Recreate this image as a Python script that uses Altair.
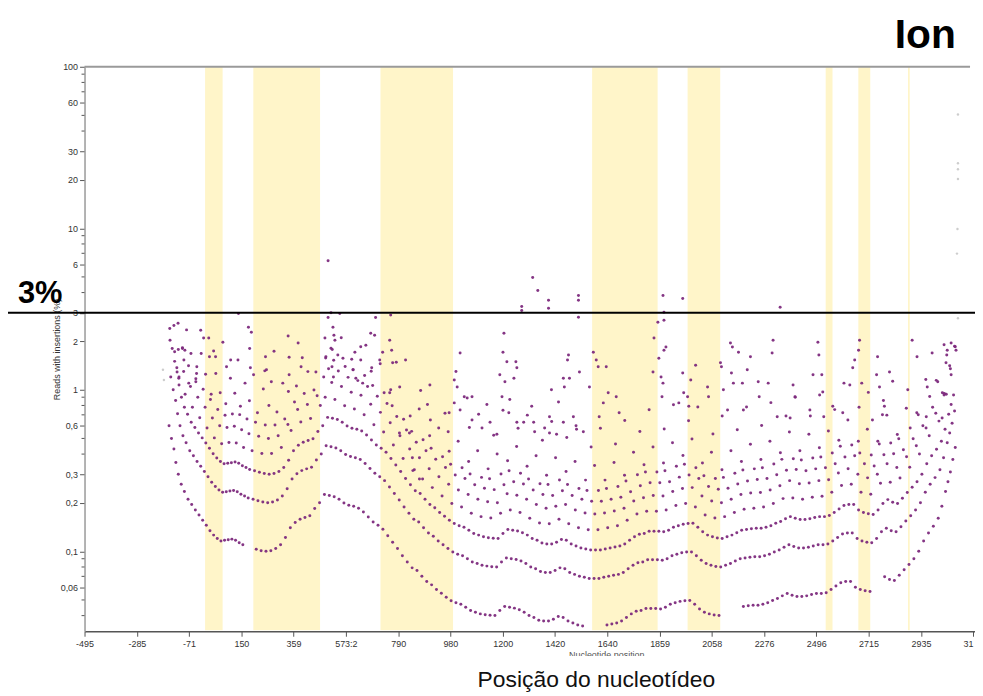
import altair as alt
import pandas as pd

W, H = 896, 568
FONT = "Liberation Sans"

# shaded regions (nucleotide positions)
band_start = [0, 198, 720, 1589, 1981, 2548, 2682, 2886]
band_end = [72, 472, 1018, 1858, 2115, 2576, 2731, 2893]

# axis ticks
x_tick_pos = [-495, -280, -66, 149, 363, 578, 793, 1007, 1222, 1436, 1651, 1866, 2080, 2295, 2509, 2724, 2939, 3153]
x_tick_labels = ["-495", "-285", "-71", "150", "359", "573:2", "790", "980", "1200", "1420", "1640", "1859",
                 "2058", "2276", "2496", "2715", "2935", "31"]
y_ticks = [100, 60, 30, 20, 10, 6, 3, 2, 1, 0.6, 0.3, 0.2, 0.1, 0.06]
y_tick_labels = ["100", "60", "30", "20", "10", "6", "3", "2", "1", "0,6", "0,3", "0,2", "0,1", "0,06"]
y_minor = [90, 80, 70, 50, 40, 9, 8, 7, 5, 4, 0.9, 0.8, 0.7, 0.5, 0.4, 0.09, 0.08, 0.07, 0.05, 0.04]

# points: [position, % reads with insertions]
band1 = [[-148,0.60],[-138,0.50],[-128,0.43],[-120,0.355],[-110,0.30],[-98,0.26],[-85,0.235],[-70,0.21],[-55,0.195],[-40,0.18],[-25,0.168],[-10,0.156],[5,0.145],[20,0.134],[35,0.126],[50,0.12],[65,0.116],[80,0.117],[95,0.118],[110,0.119],[125,0.117],[140,0.113],[155,0.110],[210,0.103],[230,0.101],[250,0.100],[270,0.101],[290,0.104],[310,0.110],[330,0.122],[350,0.140],[370,0.151],[390,0.158],[410,0.162],[430,0.166],[450,0.184],[470,0.200],
         [490,0.225],[510,0.222],[530,0.218],[550,0.210],[570,0.199],[590,0.193],[610,0.190],[630,0.185],[650,0.175],[670,0.163],[690,0.152],[710,0.145],[730,0.137],[750,0.125],[770,0.114],[790,0.104],[810,0.094],[830,0.086],[850,0.079],[870,0.076],[890,0.070],[910,0.065],[930,0.062],[950,0.058],[970,0.055],[990,0.052],[1010,0.0495],[1030,0.048],[1050,0.047],[1070,0.045],[1090,0.043],[1110,0.042],[1130,0.041],[1150,0.0405],[1170,0.0402],[1190,0.040],[1210,0.043],[1230,0.0455],[1250,0.045],[1270,0.0445],[1290,0.0435],[1310,0.042],[1330,0.040],[1350,0.039],[1370,0.0375],[1390,0.037],[1410,0.037],[1430,0.038],[1450,0.0395],[1470,0.039],[1490,0.037],[1510,0.036],[1530,0.035],[1550,0.0345],
         [1650,0.035],[1670,0.0355],[1690,0.036],[1710,0.037],[1730,0.039],[1750,0.041],[1770,0.0425],[1790,0.043],[1810,0.0443],[1830,0.0443],[1850,0.0443],[1870,0.044],[1890,0.045],[1910,0.047],[1930,0.048],[1950,0.049],[1970,0.0495],[1990,0.0496],[2010,0.047],[2030,0.044],[2050,0.042],[2070,0.041],[2090,0.0403],[2110,0.040],
         [2210,0.0455],[2230,0.046],[2250,0.0463],[2270,0.0463],[2290,0.047],[2310,0.048],[2330,0.0496],[2350,0.051],[2370,0.053],[2390,0.0548],[2410,0.0535],[2430,0.0525],[2450,0.0525],[2470,0.053],[2490,0.054],[2510,0.0548],[2530,0.0548],[2550,0.0555],[2570,0.058],[2590,0.061],[2610,0.064],[2630,0.065],[2650,0.065],[2670,0.060],[2690,0.058],[2710,0.057],[2730,0.0564],
         [2790,0.0697],[2810,0.067],[2830,0.066],[2850,0.071],[2870,0.077],[2890,0.083],[2910,0.090],[2930,0.100],[2950,0.116],[2970,0.130],[2990,0.143],[3010,0.160],[3025,0.190],[3040,0.235],[3050,0.27],[3060,0.31],[3070,0.37],[3080,0.44]]

band2 = [[-141,1.2],[-131,1.0],[-121,0.86],[-113,0.71],[-103,0.60],[-91,0.52],[-78,0.47],[-63,0.42],[-48,0.39],[-33,0.36],[-18,0.336],[-3,0.312],[12,0.29],[27,0.268],[42,0.252],[57,0.24],[72,0.232],[87,0.234],[102,0.236],[117,0.238],[132,0.234],[147,0.226],[162,0.22],[177,0.214],[197,0.21],[217,0.206],[237,0.202],[257,0.20],[277,0.202],[297,0.208],[317,0.22],[337,0.244],[357,0.28],[377,0.302],[397,0.316],[417,0.324],[437,0.332],[457,0.368],[477,0.40],
         [497,0.45],[517,0.444],[537,0.436],[557,0.42],[577,0.398],[597,0.386],[617,0.38],[637,0.37],[657,0.35],[677,0.326],[697,0.304],[717,0.29],[737,0.274],[757,0.25],[777,0.228],[797,0.208],[817,0.188],[837,0.172],[857,0.158],[877,0.152],[897,0.14],[917,0.13],[937,0.124],[957,0.116],[977,0.11],[997,0.104],[1017,0.099],[1037,0.096],[1057,0.094],[1077,0.09],[1097,0.086],[1117,0.084],[1137,0.082],[1157,0.081],[1177,0.0804],[1197,0.08],[1217,0.086],[1237,0.091],[1257,0.09],[1277,0.089],[1297,0.087],[1317,0.084],[1337,0.08],[1357,0.078],[1377,0.075],[1397,0.074],[1417,0.074],[1437,0.076],[1457,0.079],[1477,0.078],[1497,0.074],[1517,0.072],[1537,0.07],[1557,0.069],[1577,0.068],[1597,0.068],[1617,0.068],[1637,0.069],[1657,0.07],[1677,0.071],[1697,0.072],[1717,0.074],[1737,0.078],[1757,0.082],[1777,0.085],[1797,0.086],[1817,0.0886],[1837,0.0886],[1857,0.0886],[1877,0.088],[1897,0.09],[1917,0.094],[1937,0.096],[1957,0.098],[1977,0.099],[1997,0.0992],[2017,0.094],[2037,0.088],[2057,0.084],[2077,0.082],[2097,0.0806],[2117,0.08],[2137,0.082],[2157,0.084],[2177,0.087],[2197,0.09],[2217,0.091],[2237,0.092],[2257,0.0926],[2277,0.0926],[2297,0.094],[2317,0.096],[2337,0.0992],[2357,0.102],[2377,0.106],[2397,0.11],[2417,0.107],[2437,0.105],[2457,0.105],[2477,0.106],[2497,0.108],[2517,0.11],[2537,0.11],[2557,0.111],[2577,0.116],[2597,0.122],[2617,0.128],[2637,0.13],[2657,0.13],[2677,0.12],[2697,0.116],[2717,0.114],[2737,0.113],[2757,0.12],[2777,0.132],[2797,0.139],[2817,0.134],[2837,0.132],[2857,0.142],[2877,0.154],[2897,0.166],[2917,0.18],[2937,0.20],[2957,0.232],[2977,0.26],[2997,0.286],[3017,0.32],[3032,0.38],[3047,0.47],[3057,0.54],[3067,0.62],[3077,0.74]]

band3 = [[-135,1.8],[-125,1.5],[-115,1.29],[-107,1.07],[-97,0.9],[-85,0.78],[-72,0.705],[-57,0.63],[-42,0.585],[-27,0.54],[-12,0.504],[3,0.468],[18,0.435],[33,0.402],[48,0.378],[63,0.36],[78,0.348],[93,0.351],[108,0.354],[123,0.357],[138,0.351],[153,0.339],[168,0.33],[183,0.321],[203,0.315],[223,0.309],[243,0.303],[263,0.30],[283,0.303],[303,0.312],[323,0.33],[343,0.366],[363,0.42],[383,0.453],[403,0.474],[423,0.486],[443,0.498],[463,0.552],[483,0.60],
         [503,0.675],[523,0.666],[543,0.654],[563,0.63],[583,0.597],[603,0.579],[623,0.57],[643,0.555],[663,0.525],[683,0.489],[703,0.456],[723,0.435],[743,0.411],[763,0.375],[783,0.342],[803,0.312],[823,0.282],[843,0.258],[863,0.237],[883,0.228],[903,0.21],[923,0.195],[943,0.186],[963,0.174],[983,0.165],[1003,0.156],[1023,0.1485],[1043,0.144],[1063,0.141],[1083,0.135],[1103,0.129],[1123,0.126],[1143,0.123],[1163,0.1215],[1183,0.1206],[1203,0.12],[1223,0.129],[1243,0.1365],[1263,0.135],[1283,0.1335],[1303,0.1305],[1323,0.126],[1343,0.12],[1363,0.117],[1383,0.1125],[1403,0.111],[1423,0.111],[1443,0.114],[1463,0.1185],[1483,0.117],[1503,0.111],[1523,0.108],[1543,0.105],[1563,0.1035],[1583,0.102],[1603,0.102],[1623,0.102],[1643,0.1035],[1663,0.105],[1683,0.1065],[1703,0.108],[1723,0.111],[1743,0.117],[1763,0.123],[1783,0.1275],[1803,0.129],[1823,0.133],[1843,0.133],[1863,0.133],[1883,0.132],[1903,0.135],[1923,0.141],[1943,0.144],[1963,0.147],[1983,0.1485],[2003,0.149],[2023,0.141],[2043,0.132],[2063,0.126],[2083,0.123],[2103,0.121],[2123,0.12],[2143,0.123],[2163,0.126],[2183,0.1305],[2203,0.135],[2223,0.1365],[2243,0.138],[2263,0.139],[2283,0.139],[2303,0.141],[2323,0.144],[2343,0.149],[2363,0.153],[2383,0.159],[2403,0.164],[2423,0.16],[2443,0.1575],[2463,0.1575],[2483,0.159],[2503,0.162],[2523,0.164],[2543,0.164],[2563,0.1665],[2583,0.174],[2603,0.183],[2623,0.192],[2643,0.195],[2663,0.195],[2683,0.18],[2703,0.174],[2723,0.171],[2743,0.169],[2763,0.18],[2783,0.198],[2803,0.209],[2823,0.201],[2843,0.198],[2863,0.213],[2883,0.231],[2903,0.249],[2923,0.27],[2943,0.30],[2963,0.348],[2983,0.39],[3003,0.429],[3023,0.48],[3038,0.57],[3053,0.705],[3063,0.81],[3073,0.93]]

band4 = [[-145,2.4],[-125,1.72],[-107,1.2],[-82,0.94],[-52,0.78],[-22,0.672],[8,0.58],[38,0.504],[68,0.464],[98,0.472],[128,0.468],[158,0.44],[193,0.42],[233,0.404],[273,0.404],[313,0.44],[353,0.56],[393,0.632],[433,0.664],[473,0.80],
         [493,0.90],[533,0.872],[573,0.796],[613,0.76],[653,0.70],[693,0.608],[733,0.548],[773,0.456],[813,0.376],[853,0.316],[893,0.28],[933,0.248],[973,0.22],[1013,0.198],[1053,0.188],[1093,0.172],[1133,0.164],[1173,0.161],[1213,0.172],[1253,0.18],[1293,0.174],[1333,0.16],[1373,0.15],[1413,0.148],[1453,0.158],[1493,0.148],[1533,0.14],[1573,0.136],[1613,0.136],[1653,0.14],[1693,0.144],[1733,0.156],[1773,0.17],[1813,0.177],[1853,0.177],[1893,0.18],[1933,0.192],[1973,0.198],[2013,0.188],[2053,0.168],[2093,0.161],[2133,0.164],[2173,0.174],[2213,0.182],[2253,0.185],[2293,0.188],[2333,0.198],[2373,0.212],[2413,0.214],[2453,0.21],[2493,0.216],[2533,0.219],[2573,0.232],[2613,0.256],[2653,0.26],[2693,0.232],[2733,0.226],[2773,0.264],[2813,0.268],[2853,0.284],[2893,0.332],[2933,0.40],[2973,0.52],[3013,0.64],[3043,0.94],[3063,1.24],[3083,1.76]]

band5 = [[-128,2.5],[-110,1.775],[-88,1.3],[-60,1.05],[-30,0.9],[0,0.78],[30,0.67],[60,0.60],[90,0.585],[120,0.595],[150,0.565],[180,0.535],[220,0.515],[260,0.50],[300,0.52],[340,0.61],[380,0.755],[420,0.81],[460,0.92],
         [520,1.11],[560,1.05],[600,0.965],[640,0.925],[680,0.815],[720,0.725],[760,0.625],[800,0.52],[840,0.43],[880,0.38],[920,0.325],[960,0.29],[1000,0.26],[1040,0.24],[1080,0.225],[1120,0.21],[1160,0.2025],[1200,0.20],[1240,0.2275],[1280,0.2225],[1320,0.21],[1360,0.195],[1400,0.185],[1440,0.19],[1480,0.195],[1520,0.18],[1560,0.1725],[1600,0.17],[1640,0.1725],[1680,0.1775],[1720,0.185],[1760,0.205],[1800,0.215],[1840,0.2215],[1880,0.22],[1920,0.235],[1960,0.245],[2000,0.248],[2040,0.22],[2080,0.205],[2120,0.20],[2160,0.21],[2200,0.225],[2240,0.23],[2280,0.2315],[2320,0.24],[2360,0.255],[2400,0.274],[2440,0.2625],[2480,0.265],[2520,0.274],[2560,0.2775],[2600,0.305],[2640,0.325],[2680,0.30],[2720,0.285],[2760,0.30],[2800,0.3485],[2840,0.33],[2880,0.385],[2920,0.45],[2960,0.58],[3000,0.715],[3035,0.95],[3060,1.35],[3080,1.85]]

band6 = [[-111,2.58],[-93,1.8],[-68,1.41],[-38,1.17],[-8,1.008],[22,0.87],[52,0.756],[82,0.696],[112,0.708],[142,0.702],[172,0.66],[207,0.63],[247,0.606],[287,0.606],[327,0.66],[367,0.84],[407,0.948],[447,0.996],[487,1.2],
         [507,1.35],[547,1.308],[587,1.194],[627,1.14],[667,1.05],[707,0.912],[747,0.822],[787,0.684],[827,0.564],[867,0.474],[907,0.42],[947,0.372],[987,0.33],[1027,0.297],[1067,0.282],[1107,0.258],[1147,0.246],[1187,0.241],[1227,0.258],[1267,0.27],[1307,0.261],[1347,0.24],[1387,0.225],[1427,0.222],[1467,0.237],[1507,0.222],[1547,0.21],[1587,0.204],[1627,0.204],[1667,0.21],[1707,0.216],[1747,0.234],[1787,0.255],[1827,0.266],[1867,0.266],[1907,0.27],[1947,0.288],[1987,0.297],[2027,0.282],[2067,0.252],[2107,0.242],[2147,0.246],[2187,0.261],[2227,0.273],[2267,0.278],[2307,0.282],[2347,0.298],[2387,0.318],[2427,0.321],[2467,0.315],[2507,0.324],[2547,0.329],[2587,0.348],[2627,0.384],[2667,0.39],[2707,0.348],[2747,0.338],[2787,0.396],[2827,0.402],[2867,0.426],[2907,0.498],[2947,0.60],[2987,0.78],[3027,0.96],[3057,1.41],[3077,1.86]]

band7 = [[-93,1.82],[-35,1.26],[25,0.938],[85,0.819],[145,0.791],[215,0.721],[295,0.728],[375,1.057],[455,1.288],
         [495,1.575],[575,1.393],[655,1.225],[735,0.959],[815,0.658],[895,0.49],[975,0.385],[1055,0.329],[1135,0.287],[1215,0.301],[1295,0.3045],[1375,0.2625],[1455,0.2765],[1535,0.245],[1615,0.238],[1695,0.252],[1775,0.2975],[1855,0.31],[1935,0.336],[2015,0.329],[2095,0.282],[2175,0.3045],[2255,0.324],[2335,0.347],[2415,0.3745],[2495,0.378],[2575,0.406],[2655,0.455],[2735,0.395],[2815,0.469],[2895,0.581],[2975,0.91],[3045,1.645],
         [528,1.526],[608,1.33],[688,1.064],[768,0.798],[848,0.553],[928,0.434],[1008,0.3465],[1088,0.301],[1168,0.281],[1248,0.315],[1328,0.28],[1408,0.259],[1488,0.259],[1568,0.238],[1648,0.245],[1728,0.273],[1808,0.31],[1888,0.315],[1968,0.3465],[2048,0.294],[2128,0.287],[2208,0.3185],[2288,0.329],[2368,0.371],[2448,0.3675],[2528,0.384],[2608,0.448],[2688,0.406],[2768,0.462],[2848,0.497],[2928,0.70],[3008,1.12]]

band8 = [[-58,1.68],[2,1.248],[62,0.96],[122,0.952],[182,0.856],[262,0.80],[342,0.976],[422,1.296],
         [522,1.776],[602,1.544],[682,1.304],[762,1.0],[842,0.688],[922,0.52],[1002,0.416],[1082,0.36],[1162,0.324],[1242,0.364],[1322,0.336],[1402,0.296],[1482,0.312],[1562,0.276],[1642,0.276],[1722,0.296],[1802,0.344],[1882,0.352],[1962,0.392],[2042,0.352],[2122,0.32],[2202,0.36],[2282,0.37],[2362,0.408],[2442,0.42],[2522,0.438],[2602,0.488],[2682,0.48],[2762,0.48],[2842,0.528],[2922,0.72],[3002,1.144]]

band10 = [[-76,2.35],[-16,1.68],[44,1.26],[104,1.18],[164,1.1],[239,1.01],[319,1.1],[399,1.58],
          [559,2.1],[639,1.85],[719,1.45],[799,1.04],[879,0.76],[959,0.58],[1039,0.48],[1119,0.42],[1199,0.40],[1279,0.445],[1359,0.39],[1439,0.38],[1519,0.36],[1599,0.34],[1679,0.355],[1759,0.41],[1839,0.443],[1919,0.47],[1999,0.496],[2079,0.41],[2159,0.42],[2239,0.46],[2319,0.48],[2399,0.548],[2479,0.53],[2559,0.555],[2639,0.65],[2719,0.57],[2799,0.697],[2879,0.77],[2959,1.16],[3034,1.9]]

band13 = [[35,1.74],[135,1.53],[245,1.31],[345,1.59],[785,1.48],[885,0.99],[985,0.715],[1085,0.585],[1185,0.523],[1285,0.579],[1385,0.488],[1485,0.507],[1585,0.442],[1685,0.4615],[1785,0.5525],[1885,0.572],[1985,0.6435],[2085,0.533],[2185,0.5655],[2285,0.602],[2385,0.689],[2485,0.689],[2585,0.754],[2685,0.78],[2785,0.858],[2885,1.0],[2985,1.69]]

band17 = [[73,1.97],[183,1.8],[283,1.73],[823,1.53],[923,1.07],[1023,0.83],[1123,0.705],[1223,0.748],[1323,0.697],[1423,0.6375],[1523,0.60],[1623,0.578],[1723,0.646],[1823,0.753],[1923,0.8075],[2023,0.782],[2123,0.6885],[2223,0.782],[2323,0.833],[2423,0.90],[2523,0.93],[2623,1.10],[2723,0.964],[2823,1.13],[2923,1.6]]

scatter_high = [[1047,1.69],[1035,1.04],[1023,1.15],[1076,0.89],[1096,0.905],[1157,0.81],[1210,1.24],[1227,2.24],[1223,1.71],[1231,1.12],[1239,1.49],[1251,0.87],[1268,1.18],[1276,1.49],[1280,1.37],[1341,0.79],[1414,0.68],[1422,1.0],[1451,0.84],[1471,1.18],[1475,1.04],[1492,1.64],[1488,1.53],[1496,1.18],[1537,1.29],[1578,1.04],[1594,1.71],[1606,1.53],[1614,1.39],[1647,1.39],[1655,0.96],[1688,0.905],[1700,0.72],[1635,0.83],[1618,0.68],[1843,2.09],[1859,2.62],[1863,1.57],[1872,1.2],[1880,1.1],[1876,0.905],[1839,1.29],[1892,1.84],[1884,1.76],[1945,0.83],[1961,1.27],[1965,0.96],[913,0.81],[925,0.65],[1002,0.72],[998,0.55],[1030,1.3],[1047,0.75],[1064,0.905],[1096,0.65],[1137,0.58],[1170,0.63],[1198,0.53],[1219,0.905],[1247,0.72],[1280,0.63],[1308,0.63],[1349,0.63],[1353,0.55],[1394,0.58],[1414,0.54],[1443,0.53],[1471,0.63],[1512,0.68],[1525,0.57],[1553,0.55],
                [2157,1.95],[2165,1.84],[2190,1.71],[2239,1.6],[2226,1.33],[2161,1.27],[2169,1.1],[2206,1.1],[2271,1.12],[2275,0.905],[2332,2.03],[2328,1.69],[2312,1.1],[2414,1.07],[2422,0.905],[2496,1.24],[2516,1.97],[2520,1.64],[2532,1.24],[2536,0.97],[2577,0.79],[2647,1.07],[2659,1.37],[2667,1.53],[2687,2.03],[2683,1.76],[2696,1.1],[2761,1.6],[2757,1.24],[2769,1.04],[2810,1.29],[2789,0.79],[2903,2.03],[2965,1.04],[2961,0.68],[2063,1.04],[2067,0.905],[2116,1.47],[2128,1.0],[2145,0.75],[2210,0.75],[2349,0.68],[2402,0.67],[2483,0.75],[2540,0.68],[2618,0.72],[2740,0.65],[2781,0.70],[2014,1.42],[1994,1.15],[1981,0.905],[1986,0.79],[2120,1.39],[3042,1.47],[3034,0.93],[3047,1.76],[3063,1.95],[3026,0.67],
                [-144,2.03],[-18,2.34],[-6,2.09],[15,2.09],[18,1.6],[43,1.6],[105,1.53],[88,1.39],[137,2.97],[178,2.44],[190,2.27],[186,1.37],[199,1.24],[248,1.6],[252,1.33],[341,2.15],[382,1.95],[394,1.39],[345,1.24],[272,1.12],[-34,1.39],[-38,1.12],[-87,1.53],[-83,1.76],[-116,1.37],[-108,1.18],[-67,1.1],[517,3.0],[553,2.97],[505,2.8],[525,2.44],[529,2.18],[533,2.03],[517,1.81],[545,1.64],[496,1.6],[566,1.57],[521,1.39],[527,1.2],[492,2.09],[615,1.71],[660,1.89],[680,2.24],[700,2.8],[696,2.18],[717,1.53],[729,1.71],[758,2.03],[762,2.9],[766,1.76],[770,1.47],[607,1.33],[639,1.53],[619,1.18],[684,1.37],[647,1.1],[758,0.96],[798,0.54],[839,0.54],[851,0.38],[859,0.32],[880,0.28]]

outliers = [[505,6.3],[1300,3.28],[1300,3.1],[1345,4.96],[1366,4.12],[1410,3.58],[1410,3.2],[1533,3.84],[1533,3.58],[1533,2.81],[1880,3.84],[1884,3.02],[1884,2.7],[1961,3.68],[2361,3.24]]

low_cov = [[3091,50.7],[3091,25.3],[3091,23.2],[3091,20.2],[3089,9.9],[3087,6.97],[3091,2.77],[-173,1.33],[-169,1.15]]

purple = band1 + band2 + band3 + band4 + band5 + band6 + band7 + band8 + band10 + band13 + band17 + scatter_high + outliers
pts = pd.DataFrame(purple, columns=["pos", "pct"])
gray_pts = pd.DataFrame(low_cov, columns=["pos", "pct"])
bands = pd.DataFrame({"start": band_start, "end": band_end})
minor = pd.DataFrame({"v": y_minor})


def label_expr(values, labels):
    expr = "''"
    for v, lab in reversed(list(zip(values, labels))):
        expr = "(abs(datum.value - (%r)) < 1e-6 ? '%s' : %s)" % (v, lab, expr)
    return expr


xscale = alt.Scale(domain=[-495, 3161], nice=False, zero=False)
yscale = alt.Scale(type="log", domain=[0.032, 100], nice=False)

xaxis = alt.Axis(values=x_tick_pos, labelExpr=label_expr(x_tick_pos, x_tick_labels),
                 title="Nucleotide position", grid=False,
                 domainColor="#555555", domainWidth=1.5, tickColor="#555555", tickSize=5,
                 labelFont=FONT, labelFontSize=9, labelColor="#333333", labelFlush=False,
                 labelAlign={"condition": {"test": "datum.value > 3100", "value": "right"}, "value": "center"},
                 labelOverlap=False, labelPadding=3, titleFont=FONT, titleFontSize=9,
                 titleFontWeight="normal", titleColor="#555555", titleX=525, titleY=19,
                 titleBaseline="top")
yaxis = alt.Axis(values=y_ticks, labelExpr=label_expr(y_ticks, y_tick_labels),
                 title="Reads with insertions (%)", grid=False,
                 domainColor="#9a9a9a", domainWidth=1.5, tickColor="#555555", tickSize=5,
                 labelFont=FONT, labelFontSize=9, labelColor="#333333", labelOverlap=False,
                 labelPadding=2, titleFont=FONT, titleFontSize=9, titleFontWeight="normal",
                 titleColor="#333333", titleX=-28, titleY=284, titleAngle=270,
                 titleBaseline="middle", titleAlign="center")

band_layer = alt.Chart(bands).mark_rect(color="#FFF5C9").encode(
    x=alt.X("start:Q", scale=xscale, axis=xaxis), x2="end:Q",
    y=alt.value(0), y2=alt.value(H - 1))

minor_layer = alt.Chart(minor).mark_rule(color="#555555", strokeWidth=1).encode(
    y=alt.Y("v:Q", scale=yscale, axis=yaxis), x=alt.value(-3), x2=alt.value(0))

pts_layer = alt.Chart(pts).mark_circle(size=9, color="#7d2a7d", opacity=0.95).encode(
    x=alt.X("pos:Q", scale=xscale, axis=xaxis),
    y=alt.Y("pct:Q", scale=yscale, axis=yaxis))

gray_layer = alt.Chart(gray_pts).mark_circle(size=6, color="#c8c8c8", opacity=0.9).encode(
    x=alt.X("pos:Q", scale=xscale, axis=xaxis),
    y=alt.Y("pct:Q", scale=yscale, axis=yaxis))

top_line = alt.Chart(pd.DataFrame({"v": [100]})).mark_rule(color="#9a9a9a", strokeWidth=2).encode(
    y=alt.Y("v:Q", scale=yscale, axis=yaxis), x=alt.value(0), x2=alt.value(891))

line3 = alt.Chart(pd.DataFrame({"v": [3]})).mark_rule(color="black", strokeWidth=2).encode(
    y=alt.Y("v:Q", scale=yscale, axis=yaxis), x=alt.value(-77), x2=alt.value(W + 2))

t3 = alt.Chart(pd.DataFrame({"t": ["3%"]})).mark_text(
    font=FONT, fontSize=31, fontWeight="bold", align="left", baseline="alphabetic", color="black").encode(
    text="t:N", x=alt.value(-67), y=alt.value(238))

tion = alt.Chart(pd.DataFrame({"t": ["Ion"]})).mark_text(
    font=FONT, fontSize=41, fontWeight="bold", align="center", baseline="alphabetic", color="black").encode(
    text="t:N", x=alt.value(846), y=alt.value(-19))

tpos = alt.Chart(pd.DataFrame({"t": ["Posição do nucleotídeo"]})).mark_text(
    font=FONT, fontSize=23, align="center", baseline="alphabetic", color="#111111").encode(
    text="t:N", x=alt.value(515), y=alt.value(624))

cover = alt.Chart(pd.DataFrame({"a": [0]})).mark_rect(color="white").encode(
    x=alt.value(470), x2=alt.value(590), y=alt.value(593), y2=alt.value(604))

chart = alt.layer(band_layer, minor_layer, pts_layer, gray_layer, top_line, line3,
                  cover, t3, tion, tpos).properties(
    width=W, height=H,
    padding={"left": 77, "top": 57, "right": 0, "bottom": 62},
    autosize=alt.AutoSizeParams(type="none"),
).configure_view(stroke=None)

chart.save("out.html", embed_options={"renderer": "svg", "actions": False})
